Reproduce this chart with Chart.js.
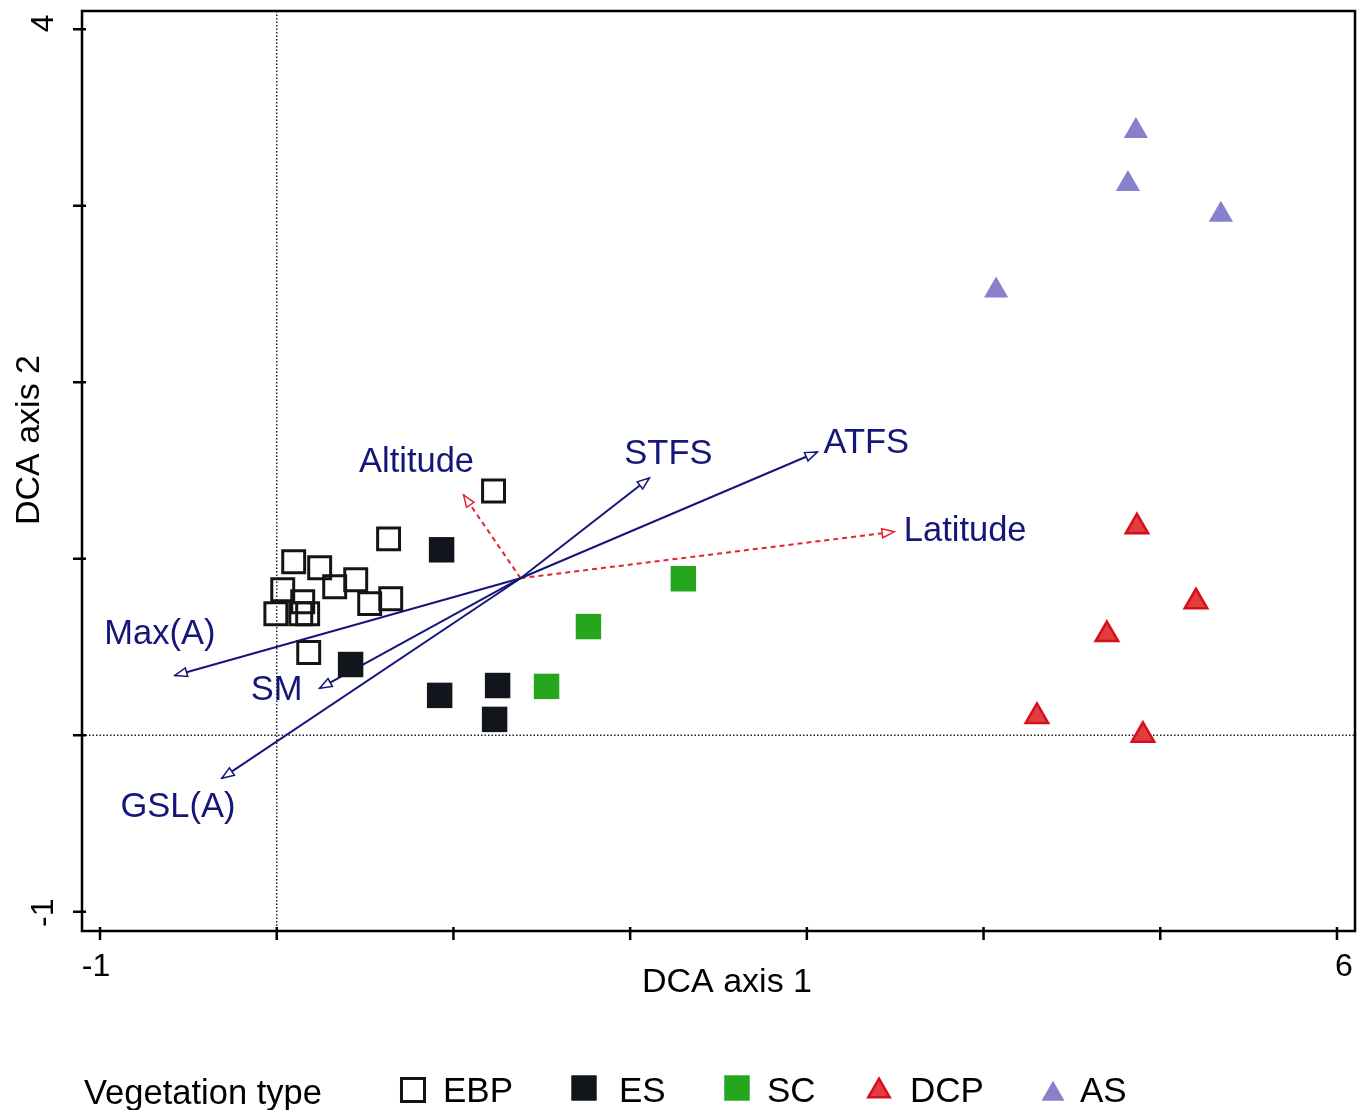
<!DOCTYPE html>
<html>
<head>
    <meta charset="UTF-8">
    <title>DCA biplot</title>
    <style type="text/css">
        body {
            margin: 0;
            padding: 0;
            background-color: white;
        }

        #chartBox {
            width: 1366px;
            height: 1110px;
        }
    </style>
    <script src="https://cdn.jsdelivr.net/npm/chart.js@4.4.0/dist/chart.umd.min.js"></script>
</head>
<body>
<div id="chartBox">
    <canvas id="dcaChart" width="1366" height="1110"></canvas>
</div>

<script type="text/javascript">
    // site scores per vegetation type
    var ebpX = [1.227, 0.633, 0.096, 0.243, 0.328, 0.447, 0.034, 0.147, 0.526, 0.645, -0.005, 0.136, 0.175, 0.181];
    var ebpY = [1.384, 1.113, 0.983, 0.949, 0.842, 0.881, 0.825, 0.757, 0.746, 0.774, 0.689, 0.689, 0.689, 0.469];
    var esX = [0.933, 0.418, 0.922, 1.250, 1.233];
    var esY = [1.051, 0.401, 0.226, 0.282, 0.090];
    var scX = [2.301, 1.764, 1.527];
    var scY = [0.887, 0.616, 0.277];
    var dcpX = [4.868, 5.202, 4.698, 4.302, 4.902];
    var dcpY = [1.181, 0.757, 0.571, 0.107, 0.000];
    var asX = [4.862, 4.817, 5.343, 4.071];
    var asY = [3.424, 3.124, 2.949, 2.520];

    // environmental vectors, all drawn from one origin
    var vecOrigin = [1.38, 0.89];
    var climNames = ['Max(A)', 'SM', 'GSL(A)', 'STFS', 'ATFS'];
    var climX = [-0.576, 0.243, -0.310, 2.109, 3.059];
    var climY = [0.339, 0.266, -0.243, 1.458, 1.605];
    var geoNames = ['Altitude', 'Latitude'];
    var geoX = [1.057, 3.494];
    var geoY = [1.362, 1.153];

    // axes
    var xTicks = [-1, 0, 1, 2, 3, 4, 5, 6];
    var xTickText = ['-1', '', '', '', '', '', '', '6'];
    var yTicks = [-1, 0, 1, 2, 3, 4];
    var yTickText = ['-1', '', '', '', '', '4'];

    var groupNames = ['EBP', 'ES', 'SC', 'DCP', 'AS'];

    // label offsets from arrow tips (pixels)
    var climLabelOff = [[-15, -41], [-43, 2], [-44, 29], [19, -23], [49, -9]];
    var geoLabelOff = [[-47, -32], [71, 0]];

    var FONT = '"Liberation Sans", Arial, sans-serif';
    var NAVY = '#16167a';
    var RED = '#e3242f';

    var groupStyle = [
        { pointStyle: 'rect', pointRadius: 15.5, pointBackgroundColor: 'rgba(0,0,0,0)', pointBorderColor: '#141414', pointBorderWidth: 3 },
        { pointStyle: 'rect', pointRadius: 18, pointBackgroundColor: '#12151b', pointBorderColor: '#12151b', pointBorderWidth: 0 },
        { pointStyle: 'rect', pointRadius: 18, pointBackgroundColor: '#25a61c', pointBorderColor: '#25a61c', pointBorderWidth: 0 },
        { pointStyle: 'triangle', pointRadius: 13, pointBackgroundColor: '#e23b40', pointBorderColor: '#d4101c', pointBorderWidth: 2.5 },
        { pointStyle: 'triangle', pointRadius: 14, pointBackgroundColor: '#8980cb', pointBorderColor: '#8980cb', pointBorderWidth: 0 }
    ];

    function toPoints(xs, ys) {
        var pts = [];
        for (var i = 0; i < xs.length; i++) {
            pts.push({ x: xs[i], y: ys[i] });
        }
        return pts;
    }

    var datasets = [];
    var groupData = [[ebpX, ebpY], [esX, esY], [scX, scY], [dcpX, dcpY], [asX, asY]];
    for (var g = 0; g < groupNames.length; g++) {
        var ds = Object.assign({ label: groupNames[g], data: toPoints(groupData[g][0], groupData[g][1]) }, groupStyle[g]);
        datasets.push(ds);
    }
    var firstArrow = datasets.length;
    for (var a = 0; a < climNames.length; a++) {
        datasets.push({
            label: climNames[a],
            data: [{ x: vecOrigin[0], y: vecOrigin[1] }, { x: climX[a], y: climY[a] }],
            showLine: true, borderColor: NAVY, borderWidth: 2, pointRadius: 0,
            arrowLabel: climLabelOff[a]
        });
    }
    for (var b = 0; b < geoNames.length; b++) {
        datasets.push({
            label: geoNames[b],
            data: [{ x: vecOrigin[0], y: vecOrigin[1] }, { x: geoX[b], y: geoY[b] }],
            showLine: true, borderColor: RED, borderWidth: 2, borderDash: [5, 4], pointRadius: 0,
            arrowLabel: geoLabelOff[b]
        });
    }

    function marker(ctx, style, x, y) {
        ctx.save();
        ctx.fillStyle = style.pointBackgroundColor;
        ctx.strokeStyle = style.pointBorderColor;
        ctx.lineWidth = style.pointBorderWidth;
        ctx.beginPath();
        var r = style.pointRadius;
        if (style.pointStyle === 'rect') {
            var s = r * Math.SQRT1_2;
            ctx.rect(x - s, y - s, 2 * s, 2 * s);
        } else {
            ctx.moveTo(x, y - r);
            ctx.lineTo(x + r * Math.sin(Math.PI * 2 / 3), y - r * Math.cos(Math.PI * 2 / 3));
            ctx.lineTo(x - r * Math.sin(Math.PI * 2 / 3), y - r * Math.cos(Math.PI * 2 / 3));
            ctx.closePath();
        }
        ctx.fill();
        if (style.pointBorderWidth > 0) ctx.stroke();
        ctx.restore();
    }

    var biplotDecor = {
        id: 'biplotDecor',
        beforeDatasetsDraw: function (chart) {
            var ctx = chart.ctx, area = chart.chartArea;
            var xs = chart.scales.x, ys = chart.scales.y;
            ctx.save();
            ctx.strokeStyle = '#222';
            ctx.lineWidth = 1.5;
            ctx.setLineDash([1.5, 2]);
            var x0 = xs.getPixelForValue(0), y0 = ys.getPixelForValue(0);
            ctx.beginPath();
            ctx.moveTo(x0, area.top);
            ctx.lineTo(x0, area.bottom);
            ctx.moveTo(area.left, y0);
            ctx.lineTo(area.right, y0);
            ctx.stroke();
            ctx.restore();
        },
        afterDatasetsDraw: function (chart) {
            var ctx = chart.ctx;
            ctx.save();
            for (var i = firstArrow; i < chart.data.datasets.length; i++) {
                var ds = chart.data.datasets[i];
                var meta = chart.getDatasetMeta(i);
                var p0 = meta.data[0], p1 = meta.data[1];
                var ang = Math.atan2(p1.y - p0.y, p1.x - p0.x);
                var len = 12, half = 4.5;
                var bx = p1.x - len * Math.cos(ang), by = p1.y - len * Math.sin(ang);
                ctx.setLineDash([]);
                ctx.lineWidth = 1.5;
                ctx.strokeStyle = ds.borderColor;
                ctx.fillStyle = 'white';
                ctx.beginPath();
                ctx.moveTo(p1.x, p1.y);
                ctx.lineTo(bx + half * Math.sin(ang), by - half * Math.cos(ang));
                ctx.lineTo(bx - half * Math.sin(ang), by + half * Math.cos(ang));
                ctx.closePath();
                ctx.fill();
                ctx.stroke();

                ctx.fillStyle = NAVY;
                ctx.font = '34.5px ' + FONT;
                ctx.textAlign = 'center';
                ctx.textBaseline = 'middle';
                ctx.fillText(ds.label, p1.x + ds.arrowLabel[0], p1.y + ds.arrowLabel[1]);
            }
            ctx.restore();
        },
        afterDraw: function (chart) {
            var ctx = chart.ctx, area = chart.chartArea;
            var xs = chart.scales.x, ys = chart.scales.y;
            ctx.save();
            // frame
            ctx.strokeStyle = '#000';
            ctx.lineWidth = 2.5;
            ctx.strokeRect(area.left, area.top, area.right - area.left, area.bottom - area.top);

            // ticks
            ctx.beginPath();
            for (var i = 0; i < xTicks.length; i++) {
                var px = xs.getPixelForValue(xTicks[i]);
                ctx.moveTo(px, area.bottom - 4);
                ctx.lineTo(px, area.bottom + 9);
            }
            for (var j = 0; j < yTicks.length; j++) {
                var py = ys.getPixelForValue(yTicks[j]);
                ctx.moveTo(area.left - 9, py);
                ctx.lineTo(area.left + 4, py);
            }
            ctx.stroke();

            // tick labels (outer ones only, nudged like the original)
            ctx.fillStyle = '#000';
            ctx.font = '32px ' + FONT;
            ctx.textAlign = 'center';
            ctx.textBaseline = 'middle';
            for (var k = 0; k < xTicks.length; k++) {
                if (!xTickText[k]) continue;
                var nudge = xTicks[k] < 0 ? -4 : 7;
                ctx.fillText(xTickText[k], xs.getPixelForValue(xTicks[k]) + nudge, 967);
            }
            for (var m = 0; m < yTicks.length; m++) {
                if (!yTickText[m]) continue;
                var ny = yTicks[m] > 0 ? -6 : 1;
                ctx.save();
                ctx.translate(44, ys.getPixelForValue(yTicks[m]) + ny);
                ctx.rotate(-Math.PI / 2);
                ctx.fillText(yTickText[m], 0, 0);
                ctx.restore();
            }

            // axis titles
            ctx.font = '34px ' + FONT;
            ctx.fillText('DCA axis 1', 727, 983);
            ctx.save();
            ctx.translate(30, 440);
            ctx.rotate(-Math.PI / 2);
            ctx.fillText('DCA axis 2', 0, 0);
            ctx.restore();

            // legend
            ctx.textAlign = 'left';
            ctx.font = '34.5px ' + FONT;
            ctx.fillText('Vegetation type', 84, 1094);
            var mx = [413, 584, 737, 879, 1053];
            var my = [1090, 1088, 1088, 1091, 1094];
            var tx = [443, 619, 767, 910, 1080];
            var mscale = [1.05, 1, 1, 0.95, 0.95];
            ctx.font = '35px ' + FONT;
            for (var n = 0; n < groupNames.length; n++) {
                var st = Object.assign({}, groupStyle[n]);
                st.pointRadius = st.pointRadius * mscale[n];
                marker(ctx, st, mx[n], my[n]);
                ctx.fillStyle = '#000';
                ctx.fillText(groupNames[n], tx[n], 1092);
            }
            ctx.restore();
        }
    };

    var dcaChart = new Chart(document.getElementById('dcaChart').getContext('2d'), {
        type: 'scatter',
        data: { datasets: datasets },
        options: {
            responsive: false,
            animation: false,
            devicePixelRatio: 1,
            layout: { autoPadding: false, padding: { top: 11, right: 11, left: 0, bottom: 0 } },
            plugins: {
                legend: { display: false },
                tooltip: { enabled: false }
            },
            scales: {
                x: {
                    type: 'linear',
                    min: -1.102,
                    max: 6.102,
                    grid: { display: false },
                    border: { display: false },
                    ticks: { display: false },
                    afterFit: function (scale) { scale.height = 179; }
                },
                y: {
                    type: 'linear',
                    min: -1.109,
                    max: 4.104,
                    grid: { display: false },
                    border: { display: false },
                    ticks: { display: false },
                    afterFit: function (scale) { scale.width = 82; }
                }
            }
        },
        plugins: [biplotDecor]
    });
</script>
</body>
</html>
